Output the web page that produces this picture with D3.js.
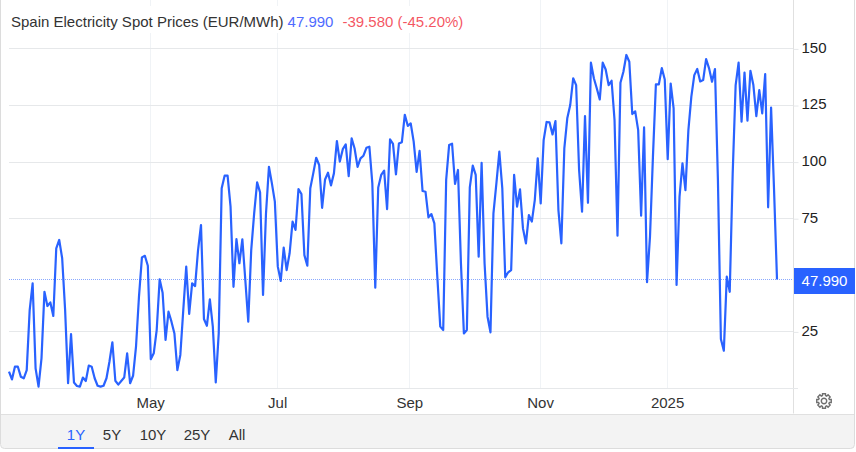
<!DOCTYPE html>
<html><head><meta charset="utf-8">
<script src="https://cdn.jsdelivr.net/npm/d3@7"></script>
<style>html,body{margin:0;padding:0;background:#fff}svg{display:block}text{font-family:"Liberation Sans",Arial,sans-serif}</style>
</head><body><div id="chart"></div>
<script>
const prices = [7.2,3.8,9.4,9.4,5.0,4.3,7.9,34.4,46.2,8.7,0.6,13.1,42.5,36.2,37.8,31.8,61.7,65.4,57.3,34.4,2.1,23.8,2.4,0.9,0.6,4.6,3.1,9.9,9.4,4.3,1.0,0.6,1.0,4.3,11.6,20.2,3.2,1.5,3.1,4.6,15.3,2.1,5.4,18.3,40.3,57.7,58.4,54.0,12.7,15.3,25.6,48.0,42.1,21.2,33.7,29.3,24.1,7.9,14.6,34.4,53.6,32.7,46.2,45.0,60.9,72.0,30.5,27.5,39.2,27.1,2.5,24.1,
88.2,93.8,93.8,80.1,44.7,65.8,55.1,65.7,47.7,29.3,60.9,77.1,90.8,86.4,41.1,77.1,97.7,90.4,82.3,
53.6,47.3,62.0,52.1,59.5,73.5,69.8,87.9,85.7,58.7,54.0,88.2,94.8,101.7,98.5,79.6,92.1,95.1,89.5,94.8,109.1,100.0,105.5,107.6,93.6,110.3,105.8,97.7,101.4,102.6,106.1,106.6,90.4,44.3,88.6,94.1,96.0,79.0,109.8,107.8,94.4,108.0,108.6,120.7,115.8,116.9,108.8,95.5,104.7,87.0,86.7,75.4,76.8,72.7,49.2,27.1,25.6,91.9,107.3,107.9,90.1,96.3,55.1,24.1,25.6,88.6,98.2,94.1,58.0,99.5,55.1,31.5,24.6,77.1,90.4,104.4,88.2,48.9,51.1,52.1,94.1,80.1,87.7,70.5,63.9,76.4,73.5,83.0,101.4,81.5,
109.5,117.5,117.3,112.0,117.9,78.6,63.9,105.8,119.1,125.0,136.8,133.8,96.3,77.9,120.1,81.8,143.7,136.8,132.3,127.5,143.7,140.7,133.8,135.7,118.3,67.3,134.8,139.7,147.1,144.1,121.0,122.2,113.9,76.1,115.1,46.7,66.8,102.2,134.1,134.1,141.3,136.3,101.1,134.5,123.5,45.5,84.5,99.2,87.4,113.9,128.7,138.2,140.9,135.4,136.0,145.3,141.2,135.3,140.9,91.9,21.6,16.5,49.2,42.5,94.8,133.8,143.7,117.6,139.3,118.1,140.1,133.8,120.1,131.6,121.3,138.7,79.8,123.9,87.57,47.99];
const yTicks = [25,75,100,125,150];
const xTickIndex = [47.8,90.8,135.5,179.8,222.8];
const xTickLabels = ["May","Jul","Sep","Nov","2025"];
const ranges = ["1Y","5Y","10Y","25Y","All"];
const rangeX = [76,112,153,197,237];
const title = "Spain Electricity Spot Prices (EUR/MWh)";
const lastText = "47.990", changeText = "-39.580 (-45.20%)";

const W=856,H=452;
const svg=d3.select("#chart").append("svg").attr("width",W).attr("height",H);
const x=d3.scaleLinear().domain([0,prices.length-1]).range([9,777]);
const y=d3.scaleLinear().domain([0,150]).range([388,48.4]);
const left=9,right=793,grid="#e6e8ea",vgrid="#f0f3f6",blue="#2962ff";
const FS=15;

// footer panel (clipped by the rounded frame)
svg.append("path").attr("d","M1,414.5H854.5V444.5a4,4 0 0 1 -4,4H5a4,4 0 0 1 -4,-4Z").attr("fill","#f3f3f3");
svg.append("line").attr("x1",1).attr("x2",854.5).attr("y1",414.5).attr("y2",414.5).attr("stroke","#e0e0e0");

// vertical grid
svg.append("g").selectAll("line").data(xTickIndex).join("line")
 .attr("x1",d=>Math.floor(x(d))+.5).attr("x2",d=>Math.floor(x(d))+.5).attr("y1",0).attr("y2",388).attr("stroke",vgrid);
// horizontal grid
svg.append("g").selectAll("line").data(yTicks).join("line")
 .attr("x1",left).attr("x2",right).attr("y1",d=>Math.round(y(d))+.5).attr("y2",d=>Math.round(y(d))+.5).attr("stroke",grid);

// title backing
svg.append("rect").attr("x",6).attr("y",6).attr("width",462).attr("height",27).attr("fill","#fff");
const t=svg.append("text").attr("x",11).attr("y",26.5).attr("font-size",FS).attr("fill","#333");
t.append("tspan").text(title);
t.append("tspan").attr("dx",4).attr("fill","#4f6bff").text(lastText);
t.append("tspan").attr("dx",9).attr("fill","#f23645").attr("fill-opacity",.85).text(changeText);

// last price dotted
svg.append("line").attr("x1",left).attr("x2",right).attr("y1",Math.round(y(47.99))+.5).attr("y2",Math.round(y(47.99))+.5)
 .attr("stroke",blue).attr("stroke-opacity",.55).attr("stroke-dasharray","1 1");

// line
svg.append("path").datum(prices).attr("fill","none").attr("stroke",blue).attr("stroke-width",2.2).attr("stroke-linejoin","round")
 .attr("d",d3.line().x((d,i)=>x(i)).y(d=>y(d)));

// axes
const yAxis=d3.axisRight(y).tickValues(yTicks).tickSize(5).tickPadding(3).tickFormat(d3.format("d"));
const gy=svg.append("g").attr("transform",`translate(${right+.5},-0.5)`).call(yAxis);
gy.select(".domain").attr("d",`M0,0V414`).attr("stroke","#e0e0e0");
gy.selectAll(".tick line").attr("stroke",grid).attr("transform","translate(0,1)");
gy.selectAll(".tick text").attr("font-size",FS).attr("fill","#222").attr("font-family","Liberation Sans").attr("transform","translate(0,-0.5)");

svg.append("line").attr("x1",left).attr("x2",798).attr("y1",388.5).attr("y2",388.5).attr("stroke",grid);
const xAxis=d3.axisBottom(x).tickValues(xTickIndex).tickSize(0).tickPadding(9).tickFormat((d,i)=>xTickLabels[i]);
const gx=svg.append("g").attr("transform","translate(0,388.5)").call(xAxis);
gx.select(".domain").remove();
gx.selectAll(".tick text").attr("font-size",FS).attr("fill","#333").attr("font-family","Liberation Sans");

// frame
svg.append("path").attr("d","M0.5,0V444.5a4,4 0 0 0 4,4H850.5a4,4 0 0 0 4,-4V0").attr("fill","none").attr("stroke","#dcdcdc");

// price tag
svg.append("rect").attr("x",794).attr("y",268).attr("width",61).attr("height",26).attr("fill",blue);
svg.append("text").attr("x",824.5).attr("y",286).attr("text-anchor","middle").attr("font-size",FS).attr("fill","#fff").text(lastText);

// gear
const gear=svg.append("g").attr("transform","translate(824,401)").attr("fill","none").attr("stroke","#6f6f6f").attr("stroke-width",1.4);
const gr=[];for(let k=0;k<8;k++){const a=k*Math.PI/4;
 [[-.28,5.6],[-.2,7.4],[.2,7.4],[.28,5.6]].forEach(p=>gr.push([Math.sin(a+p[0])*p[1],-Math.cos(a+p[0])*p[1]]));}
gear.append("path").attr("d",d3.line().curve(d3.curveLinearClosed)(gr));
gear.append("circle").attr("r",2.7);

// range tabs
svg.append("g").selectAll("text").data(ranges).join("text").attr("x",(d,i)=>rangeX[i]).attr("y",440).attr("text-anchor","middle")
 .attr("font-size",FS).attr("fill",(d,i)=>i==0?blue:"#333").text(d=>d);
svg.append("rect").attr("x",58).attr("y",447).attr("width",36).attr("height",2).attr("fill",blue);
</script></body></html>
